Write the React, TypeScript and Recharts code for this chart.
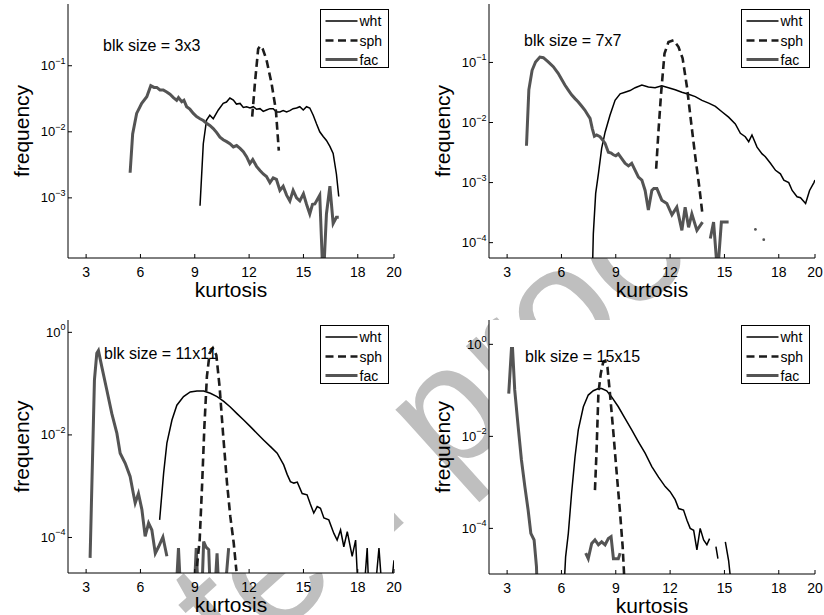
import React from 'react';
import { LineChart, Line, XAxis, YAxis, CartesianGrid, Legend } from 'recharts';

const FONT = '"Liberation Sans", Arial, Helvetica, sans-serif';

type Pair = [number, number | null];

// ---------- shared categories / labels ----------
const kurtosisTicks = [3, 6, 9, 12, 15, 18, 20];
const kurtosisRange: [number, number] = [2, 20];
const seriesNames = ['wht', 'sph', 'fac'];
const blockSizes = ['3x3', '7x7', '11x11', '15x15'];
const watermarkText = 'Uncorrected proof';

// ---------- y axes ----------
const p1YTicks = [1e-3, 1e-2, 1e-1];
const p2YTicks = [1e-4, 1e-3, 1e-2, 1e-1];
const p3YTicks = [1e-4, 1e-2, 1];
const p4YTicks = [1e-4, 1e-2, 1];
const p1YRange: [number, number] = [1.23e-4, 0.86];
const p2YRange: [number, number] = [5.55e-5, 0.94];
const p3YRange: [number, number] = [2.03e-5, 1.74];
const p4YRange: [number, number] = [1.02e-5, 3.38];

// ---------- panel 1 : blk size 3x3 ----------
const p1Wht: Pair[] = [
  [9.29, 7.6e-4], [9.47, 6.6e-3], [9.65, 0.0151], [9.83, 0.0178], [10.02, 0.0158], [10.3, 0.0214],
  [10.57, 0.0269], [10.75, 0.0282], [10.94, 0.0324], [11.13, 0.0302], [11.3, 0.0263], [11.5, 0.0269],
  [11.68, 0.0234], [11.86, 0.024], [12.05, 0.0229], [12.23, 0.024], [12.41, 0.0219], [12.6, 0.0224],
  [12.78, 0.0204], [12.96, 0.0214], [13.15, 0.0224], [13.33, 0.0224], [13.51, 0.02], [13.7, 0.02],
  [13.88, 0.0209], [14.07, 0.02], [14.25, 0.0209], [14.43, 0.0224], [14.62, 0.0229], [14.8, 0.024],
  [14.99, 0.0214], [15.17, 0.024], [15.35, 0.0229], [15.54, 0.0178], [15.72, 0.0132], [15.9, 0.01],
  [16.09, 0.0085], [16.27, 0.0074], [16.46, 0.006], [16.64, 0.0047], [16.82, 0.0023], [16.95, 0.00105],
];
const p1Sph: Pair[] = [
  [12.17, 0.017], [12.32, 0.054], [12.5, 0.18], [12.62, 0.2], [12.75, 0.18], [12.96, 0.123],
  [13.24, 0.054], [13.48, 0.021], [13.64, 0.0052],
];
const p1Fac: Pair[] = [
  [5.43, 0.0024], [5.57, 0.0093], [5.79, 0.019], [6.07, 0.027], [6.35, 0.034], [6.57, 0.05],
  [6.75, 0.047], [6.9, 0.047], [7.08, 0.043], [7.26, 0.043], [7.45, 0.04], [7.63, 0.037],
  [7.82, 0.033], [8.0, 0.03], [8.1, 0.033], [8.28, 0.0285], [8.4, 0.03], [8.55, 0.024],
  [8.73, 0.022], [8.92, 0.019], [9.1, 0.017], [9.29, 0.0158], [9.47, 0.0148], [9.65, 0.0135],
  [9.83, 0.0125], [10.02, 0.0112], [10.2, 0.0098], [10.39, 0.0083], [10.57, 0.0076], [10.76, 0.0071],
  [10.94, 0.0066], [11.13, 0.0059], [11.31, 0.0062], [11.5, 0.0056], [11.68, 0.005], [11.86, 0.0042],
  [12.04, 0.0033], [12.2, 0.0038], [12.41, 0.003], [12.6, 0.0026], [12.78, 0.0023], [12.96, 0.0021],
  [13.15, 0.0017], [13.33, 0.002], [13.51, 0.0019], [13.7, 0.0013], [13.88, 0.0015], [14.07, 0.0011],
  [14.25, 0.0009], [14.43, 0.0013], [14.62, 0.001], [14.8, 0.0009], [15.0, 0.00115], [15.17, 0.0008],
  [15.35, 0.00057], [15.5, 0.0008], [15.63, 0.00081], [15.9, 0.0011], [16.09, 0.00005], [16.27, 0.00057],
  [16.46, 0.0015], [16.64, 0.00041], [16.82, 0.00051], [16.95, 0.00051],
];

// ---------- panel 2 : blk size 7x7 ----------
const p2Wht: Pair[] = [
  [7.67, 1e-5], [7.76, 1.4e-4], [7.89, 6.6e-4], [8.04, 0.0014], [8.22, 0.0037], [8.41, 0.0069],
  [8.68, 0.0132], [8.96, 0.0234], [9.24, 0.03], [9.51, 0.032], [9.79, 0.034], [10.07, 0.038],
  [10.44, 0.042], [10.8, 0.039], [11.17, 0.038], [11.54, 0.041], [11.91, 0.038], [12.28, 0.035],
  [12.65, 0.032], [13.02, 0.0295], [13.39, 0.027], [13.76, 0.0234], [14.13, 0.021], [14.5, 0.0186],
  [14.86, 0.0151], [15.23, 0.0123], [15.6, 0.0095], [15.88, 0.0066], [16.15, 0.0058], [16.34, 0.0048],
  [16.52, 0.0062], [16.8, 0.0039], [17.08, 0.003], [17.26, 0.0027], [17.54, 0.0021], [17.82, 0.0016],
  [18.09, 0.0014], [18.28, 0.0011], [18.55, 0.001], [18.74, 0.00074], [19.01, 0.00058], [19.2, 0.00056],
  [19.48, 0.00045], [19.7, 0.00074], [19.94, 0.001], [20.0, 0.0011],
];
const p2Sph: Pair[] = [
  [11.23, 0.0017], [11.36, 0.0074], [11.5, 0.03], [11.69, 0.141], [11.91, 0.219], [12.19, 0.234],
  [12.46, 0.182], [12.69, 0.117], [12.93, 0.039], [13.17, 0.0095], [13.39, 0.0027], [13.61, 0.00085],
  [13.79, 0.00029],
];
const p2Fac: Pair[] = [
  [4.07, 0.0041], [4.2, 0.035], [4.38, 0.074], [4.57, 0.102], [4.81, 0.123], [5.0, 0.12],
  [5.27, 0.102], [5.55, 0.085], [5.82, 0.066], [6.0, 0.053], [6.19, 0.042], [6.37, 0.035],
  [6.56, 0.029], [6.75, 0.025], [6.93, 0.022], [7.1, 0.019], [7.3, 0.016], [7.45, 0.0135],
  [7.58, 0.0117], [7.7, 0.008], [7.82, 0.0059], [7.94, 0.0062], [8.13, 0.0058], [8.3, 0.005],
  [8.41, 0.0045], [8.59, 0.0032], [8.75, 0.0031], [8.87, 0.0029], [9.0, 0.0028], [9.14, 0.003],
  [9.33, 0.0025], [9.51, 0.0021], [9.7, 0.0019], [9.88, 0.0021], [10.07, 0.0016], [10.25, 0.00123],
  [10.44, 0.0011], [10.62, 0.00074], [10.8, 0.00035], [10.99, 0.00074], [11.1, 0.0008], [11.27, 0.0008],
  [11.54, 0.00051], [11.82, 0.00045], [12.1, 0.00029], [12.37, 0.00039], [12.65, 0.00016], [12.83, 0.00039],
  [13.02, 0.00018], [13.2, 0.0003], [13.48, 0.00016], [13.79, 0.00022], [14.0, null], [14.22, 0.000117],
  [14.4, 0.00022], [14.62, 0.00003], [14.83, 0.00022], [15.0, 0.00022], [15.23, 0.00022],
];
const p2FacDots: Pair[] = [[16.71, 1.66e-4], [17.17, 1.12e-4]];

// ---------- panel 3 : blk size 11x11 ----------
const p3Wht: Pair[] = [
  [7.06, 2.2e-4], [7.28, 0.0018], [7.46, 0.0069], [7.74, 0.0195], [8.01, 0.038], [8.38, 0.056],
  [8.75, 0.069], [9.12, 0.072], [9.49, 0.072], [9.86, 0.065], [10.23, 0.056], [10.6, 0.045],
  [10.96, 0.035], [11.33, 0.026], [11.7, 0.0195], [12.07, 0.0145], [12.44, 0.0107], [12.81, 0.0079],
  [13.18, 0.0059], [13.55, 0.0044], [13.91, 0.0026], [14.1, 0.0017], [14.28, 0.00123], [14.47, 0.00115],
  [14.66, 0.0012], [14.93, 0.00072], [15.2, 0.00068], [15.38, 0.00045], [15.57, 0.0003], [15.76, 0.0004],
  [15.94, 0.00037], [16.13, 0.00024], [16.4, 0.00022], [16.68, 0.00012], [16.86, 8.9e-5], [17.05, 1.4e-4],
  [17.23, 6.6e-5], [17.42, 1.3e-4], [17.69, 4.3e-5], [17.88, 8.9e-5], [18.15, 1e-6], [18.52, 6.2e-5],
  [18.71, 1e-6], [19.17, 6.2e-5], [19.54, 1e-6], [20.0, 3.6e-5],
];
const p3Sph: Pair[] = [
  [9.12, 2.75e-5], [9.27, 8.9e-5], [9.4, 9.8e-4], [9.53, 0.0145], [9.67, 0.138], [9.82, 0.39],
  [10.0, 0.49], [10.19, 0.36], [10.37, 0.087], [10.56, 0.0107], [10.78, 0.00115], [10.96, 0.00026],
  [11.15, 7.8e-5], [11.3, 2.2e-5],
];
const p3Fac: Pair[] = [
  [3.22, 4e-5], [3.46, 0.118], [3.59, 0.39], [3.68, 0.44], [3.87, 0.21], [4.14, 0.076],
  [4.42, 0.026], [4.7, 0.0107], [4.88, 0.0044], [5.16, 0.0028], [5.43, 0.00155], [5.62, 0.00068],
  [5.71, 0.00047], [5.89, 0.00072], [6.08, 0.00035], [6.26, 0.000105], [6.45, 0.00019], [6.63, 0.00014],
  [6.82, 0.000049], [7.0, 0.000066], [7.24, 0.000102], [7.46, 0.000043], [7.65, null], [7.83, 1e-6],
  [8.1, 6.2e-5], [8.35, 1e-6], [8.6, 1e-6], [8.85, 1e-6], [9.08, 6.2e-5], [9.3, 1e-6],
  [9.49, 8.3e-5], [9.62, 6.5e-5], [9.77, 5.8e-5], [9.95, 1e-6], [10.23, 4.9e-5], [10.45, 1e-6],
  [10.87, 6.2e-5],
];

// ---------- panel 4 : blk size 15x15 ----------
const p4Wht: Pair[] = [
  [6.05, 1e-6], [6.23, 2.4e-5], [6.38, 7.8e-5], [6.56, 5.8e-4], [6.75, 0.0036], [6.93, 0.0138],
  [7.21, 0.044], [7.48, 0.079], [7.76, 0.098], [8.04, 0.11], [8.22, 0.11], [8.5, 0.098],
  [8.77, 0.072], [9.14, 0.044], [9.51, 0.0245], [9.88, 0.0138], [10.25, 0.0076], [10.62, 0.0043],
  [10.99, 0.0022], [11.36, 0.0013], [11.73, 8.1e-4], [12.0, 6.3e-4], [12.28, 4.2e-4], [12.47, 2.7e-4],
  [12.74, 2.5e-4], [12.93, 1.5e-4], [13.11, 1e-4], [13.3, 9.1e-5], [13.48, 3.4e-5], [13.66, 1e-4],
  [13.85, 5.6e-5], [14.03, 4.4e-5], [14.18, 6.0e-5], [14.35, null], [14.53, 4e-5], [14.64, 2.2e-5],
  [14.85, null], [15.05, 5.1e-5], [15.23, 2e-5], [15.42, 4e-6],
];
const p4Sph: Pair[] = [
  [7.85, 6.8e-4], [7.94, 0.005], [8.04, 0.085], [8.17, 0.23], [8.31, 0.42], [8.41, 0.44],
  [8.54, 0.32], [8.68, 0.085], [8.87, 0.0117], [9.05, 0.0016], [9.24, 2.1e-4], [9.38, 4e-5],
  [9.51, 4e-6],
];
const p4Fac: Pair[] = [
  [3.09, 0.085], [3.24, 0.81], [3.3, 0.81], [3.42, 0.102], [3.61, 0.0162], [3.79, 0.0031],
  [3.98, 8.1e-4], [4.16, 2.5e-4], [4.31, 7.8e-5], [4.49, 5.6e-5], [4.62, 1.5e-5], [4.72, 1e-6],
  [5.0, null], [7.34, 2.9e-5], [7.48, 2.2e-5], [7.67, 4.7e-5], [7.85, 5.6e-5], [8.04, 4.4e-5],
  [8.22, 5.1e-5], [8.41, 4.4e-5], [8.59, 6.0e-5], [8.74, 6.6e-5], [8.87, 2.2e-5], [9.14, 2.2e-5],
  [9.24, 2.9e-5],
];

// ---------- styles ----------
const seriesStyle: Record<string, { stroke: string; strokeWidth: number; strokeDasharray?: string }> = {
  wht: { stroke: '#000000', strokeWidth: 1.5 },
  sph: { stroke: '#1c1c1c', strokeWidth: 2.6, strokeDasharray: '8 4.5' },
  fac: { stroke: '#545454', strokeWidth: 3 },
};

const toRows = (a: Pair[]) => a.map(([k, f]) => ({ k, f }));

type Geo = { ox: number; oy: number; w: number; h: number; pl: number; pr: number; pt: number; pb: number };

// panel boxes: offsets and local plot-area edges
const geos: Geo[] = [
  { ox: 0, oy: 0, w: 412, h: 300, pl: 68, pr: 394, pt: 4, pb: 258 },
  { ox: 412, oy: 0, w: 412, h: 300, pl: 77, pr: 403, pt: 4, pb: 258 },
  { ox: 0, oy: 300, w: 412, h: 315, pl: 68, pr: 394, pt: 20, pb: 273 },
  { ox: 412, oy: 300, w: 412, h: 315, pl: 77, pr: 403, pt: 20, pb: 274 },
];
const blkPos = [
  { x: 103, y: 50.5 },
  { x: 112, y: 46 },
  { x: 104, y: 59 },
  { x: 113, y: 61.5 },
];

type PanelProps = {
  geo: Geo;
  yRange: [number, number];
  yTicks: number[];
  wht: Pair[];
  sph: Pair[];
  fac: Pair[];
  dots?: Pair[];
  blk: string;
  blkAt: { x: number; y: number };
};

const LegendBox: React.FC = () => {
  const W = 69;
  const H = 59;
  const B = 1.4;
  const rows = [11, 30.5, 49.5];
  return (
    <div style={{ width: W, height: H, boxSizing: 'border-box', border: `${B}px solid #000`, background: '#fff' }}>
      <svg width={W - 2 * B} height={H - 2 * B} style={{ display: 'block' }}>
        {seriesNames.map((n, i) => {
          const s = seriesStyle[n];
          return (
            <g key={n}>
              <line x1={4.5} x2={36.5} y1={rows[i]} y2={rows[i]} stroke={s.stroke} strokeWidth={s.strokeWidth} strokeDasharray={s.strokeDasharray} />
              <text x={38.5} y={rows[i] + 5} fontSize={14} fontFamily={FONT} fill="#000">{n}</text>
            </g>
          );
        })}
      </svg>
    </div>
  );
};

const Panel: React.FC<PanelProps> = ({ geo, yRange, yTicks, wht, sph, fac, dots, blk, blkAt }) => {
  const { ox, oy, w, h, pl, pr, pt, pb } = geo;
  const YW = 60;
  const XH = 40;
  const margin = { left: pl - YW, right: w - pr, top: pt, bottom: h - pb - XH };
  const cx = (pl + pr) / 2;
  const cy = (pt + pb) / 2;
  const T = 4;
  const pw = pr - pl;
  const ph = pb - pt;

  const bottomTick = (p: any) => (
    <g>
      <line x1={p.x} x2={p.x} y1={p.y} y2={p.y - T} stroke="#000" strokeWidth={1} />
      <text x={p.x} y={p.y + 19} textAnchor="middle" fontSize={14} fontFamily={FONT} fill="#000">
        {p.payload.value}
      </text>
    </g>
  );
  const topTick = (p: any) => <line x1={p.x} x2={p.x} y1={p.y} y2={p.y + T} stroke="#000" strokeWidth={1} />;
  const leftTick = (p: any) => {
    const e = Math.round(Math.log10(p.payload.value));
    return (
      <g>
        <line x1={p.x} x2={p.x + T} y1={p.y} y2={p.y} stroke="#000" strokeWidth={1} />
        <text x={p.x - 2.5} y={p.y + 4.5} textAnchor="end" fontSize={13} fontFamily={FONT} fill="#000">
          10
          <tspan dy={-6.5} fontSize={9}>
            {e === 0 ? '0' : '\u2212' + Math.abs(e)}
          </tspan>
        </text>
      </g>
    );
  };
  const rightTick = (p: any) => <line x1={p.x} x2={p.x - T} y1={p.y} y2={p.y} stroke="#000" strokeWidth={1} />;

  const xLabel = () => (
    <text x={cx} y={pb + 38.5} textAnchor="middle" fontSize={21} fontFamily={FONT} fill="#000">
      kurtosis
    </text>
  );
  const yLabel = () => (
    <text x={pl - 39} y={cy} transform={`rotate(-90 ${pl - 39} ${cy})`} textAnchor="middle" fontSize={21} fontFamily={FONT} fill="#000">
      frequency
    </text>
  );

  const overlay = () => (
    <div style={{ position: 'relative', width: pw, height: ph, pointerEvents: 'none' }}>
      <svg width={pw} height={ph} style={{ position: 'absolute', left: 0, top: 0, overflow: 'visible' }}>
        <text x={blkAt.x - pl} y={blkAt.y - pt} fontSize={16} fontFamily={FONT} fill="#000">
          {blk}
        </text>
      </svg>
      <div style={{ position: 'absolute', left: pw - 5 - 69, top: 5 }}>
        <LegendBox />
      </div>
    </div>
  );

  return (
    <div style={{ position: 'absolute', left: ox, top: oy, width: w, height: h }}>
      <LineChart width={w} height={h} margin={margin}>
        <CartesianGrid fill="#ffffff" horizontal={false} vertical={false} />
        <XAxis dataKey="k" type="number" domain={kurtosisRange} ticks={kurtosisTicks} interval={0} allowDataOverflow height={XH} tickSize={0} tickMargin={0} tickLine={false} axisLine={{ stroke: '#000', strokeWidth: 1 }} tick={bottomTick} label={xLabel} />
        <XAxis xAxisId="top" orientation="top" type="number" domain={kurtosisRange} ticks={kurtosisTicks} interval={0} allowDataOverflow height={0} tickSize={0} tickMargin={0} tickLine={false} axisLine={{ stroke: '#000', strokeWidth: 1 }} tick={topTick} />
        <YAxis type="number" scale="log" domain={yRange} ticks={yTicks} interval={0} allowDataOverflow width={YW} tickSize={0} tickMargin={0} tickLine={false} axisLine={{ stroke: '#000', strokeWidth: 1 }} tick={leftTick} label={yLabel} />
        <YAxis yAxisId="right" orientation="right" type="number" scale="log" domain={yRange} ticks={yTicks} interval={0} allowDataOverflow width={0} tickSize={0} tickMargin={0} tickLine={false} axisLine={{ stroke: '#000', strokeWidth: 1 }} tick={rightTick} />
        <Line data={toRows(wht)} dataKey="f" name="wht" type="linear" dot={false} connectNulls={false} isAnimationActive={false} {...seriesStyle.wht} />
        <Line data={toRows(fac)} dataKey="f" name="fac" type="linear" dot={false} connectNulls={false} isAnimationActive={false} {...seriesStyle.fac} />
        {dots && (
          <Line data={toRows(dots)} dataKey="f" name="facpts" legendType="none" stroke="none" dot={{ r: 1.4, fill: '#545454', stroke: 'none' }} isAnimationActive={false} />
        )}
        <Line data={toRows(sph)} dataKey="f" name="sph" type="linear" dot={false} connectNulls={false} isAnimationActive={false} {...seriesStyle.sph} />
        <Legend layout="horizontal" verticalAlign="middle" align="center" wrapperStyle={{ position: 'absolute', left: pl, top: pt, width: pw, height: ph, margin: 0 }} content={overlay} />
      </LineChart>
    </div>
  );
};

// light grey watermark, lying behind the white plot areas
const Watermark: React.FC = () => (
  <svg width={824} height={615} style={{ position: 'absolute', left: 0, top: 0 }}>
    <text x={-276} y={1135} transform="rotate(-42 -276 1135)" fontSize={170} fontFamily={FONT} fill="#bfbfbf">
      {watermarkText}
    </text>
  </svg>
);

export default function App() {
  return (
    <div style={{ position: 'absolute', left: 0, top: 0, width: 824, height: 615, background: '#fff', overflow: 'hidden' }}>
      <Watermark />
      <Panel geo={geos[0]} yRange={p1YRange} yTicks={p1YTicks} wht={p1Wht} sph={p1Sph} fac={p1Fac} blk={`blk size = ${blockSizes[0]}`} blkAt={blkPos[0]} />
      <Panel geo={geos[1]} yRange={p2YRange} yTicks={p2YTicks} wht={p2Wht} sph={p2Sph} fac={p2Fac} dots={p2FacDots} blk={`blk size = ${blockSizes[1]}`} blkAt={blkPos[1]} />
      <Panel geo={geos[2]} yRange={p3YRange} yTicks={p3YTicks} wht={p3Wht} sph={p3Sph} fac={p3Fac} blk={`blk size = ${blockSizes[2]}`} blkAt={blkPos[2]} />
      <Panel geo={geos[3]} yRange={p4YRange} yTicks={p4YTicks} wht={p4Wht} sph={p4Sph} fac={p4Fac} blk={`blk size = ${blockSizes[3]}`} blkAt={blkPos[3]} />
    </div>
  );
}
